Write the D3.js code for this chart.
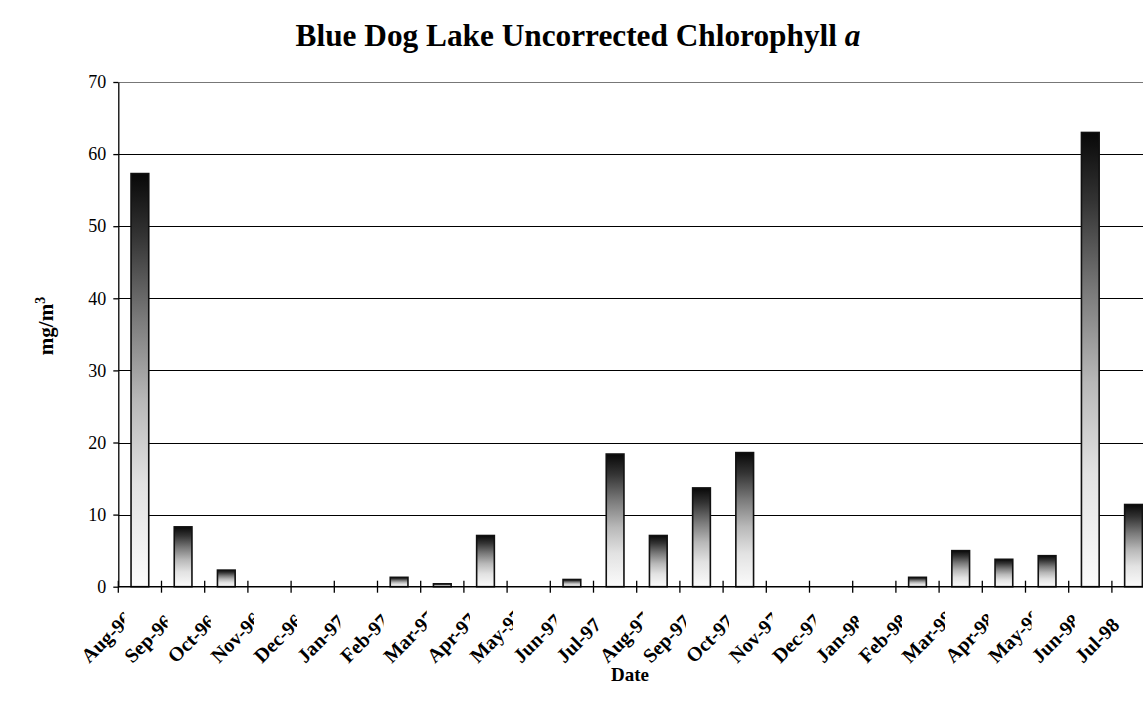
<!DOCTYPE html>
<html><head><meta charset="utf-8">
<script src="https://cdn.jsdelivr.net/npm/d3@7"></script>
<style>
body{margin:0;background:#fff}
svg{display:block}
text{font-family:"Liberation Serif","Times New Roman",serif;fill:#000}
</style>
</head><body>
<svg id="c" width="1143" height="708"></svg>
<script>
const categories=["Aug-96","Sep-96","Oct-96","Nov-96","Dec-96","Jan-97","Feb-97","Mar-97","Apr-97","May-97","Jun-97","Jul-97","Aug-97","Sep-97","Oct-97","Nov-97","Dec-97","Jan-98","Feb-98","Mar-98","Apr-98","May-98","Jun-98","Jul-98"];
const values=[57.3,8.3,2.3,0,0,0,1.3,0.4,7.1,0,1.0,18.4,7.1,13.7,18.6,0,0,0,1.3,5.0,3.8,4.3,63.0,11.4];
const yTicks=[0,10,20,30,40,50,60,70];
const titleMain="Blue Dog Lake Uncorrected Chlorophyll ";
const titleItalic="a";
const xTitle="Date";
const yTitle="mg/m";
const yTitleSup="3";

const svg=d3.select("#c");
const W=1143,H=708;
const m={left:118.3,right:1155.1,top:82,bottom:586.7};
const x=d3.scaleBand().domain(categories).range([m.left,m.right]).paddingInner(0).paddingOuter(0);
const y=d3.scaleLinear().domain([0,70]).range([m.bottom,m.top]);
const bw=x.bandwidth();
const barW=bw*0.41;

const defs=svg.append("defs");
const grad=defs.append("linearGradient").attr("id","barGrad").attr("x1",0).attr("y1",0).attr("x2",0).attr("y2",1);
[[0,"#080808"],[0.15,"#333"],[0.35,"#7a7a7a"],[0.55,"#b8b8b8"],[0.75,"#e2e2e2"],[1,"#fbfbfb"]].forEach(([o,c])=>grad.append("stop").attr("offset",o).attr("stop-color",c));

// gridlines
svg.append("g").selectAll("line").data(yTicks.filter(d=>d>0)).join("line")
  .attr("x1",m.left).attr("x2",W).attr("y1",d=>Math.round(y(d))+0.5).attr("y2",d=>Math.round(y(d))+0.5)
  .attr("stroke",d=>d===70?"#777":"#000").attr("stroke-width",1);

// bars
svg.append("g").selectAll("rect").data(categories.map((c,i)=>({c,v:values[i]})).filter(d=>d.v>0)).join("rect")
  .attr("x",d=>x(d.c)+(bw-barW)/2).attr("width",barW)
  .attr("y",d=>y(d.v)).attr("height",d=>y(0)-y(d.v))
  .attr("fill","url(#barGrad)").attr("stroke","#111").attr("stroke-width",1.6);

// y axis
const ya=svg.append("g").attr("transform",`translate(${m.left},0)`)
  .call(d3.axisLeft(y).tickValues(yTicks).tickSize(5).tickSizeOuter(0).tickPadding(7).tickFormat(d3.format("d")));
ya.select(".domain").attr("stroke","#000").attr("stroke-width",1.3);
ya.selectAll(".tick line").attr("stroke","#000").attr("stroke-width",1.3);
ya.selectAll(".tick text").style("font-family",'"Liberation Serif","Times New Roman",serif').style("font-size","18px");

// x axis line and ticks (at band boundaries)
svg.append("line").attr("x1",m.left).attr("x2",W).attr("y1",y(0)).attr("y2",y(0)).attr("stroke","#000").attr("stroke-width",1.5);
svg.append("g").selectAll("line").data(categories).join("line")
  .attr("x1",d=>x(d)).attr("x2",d=>x(d)).attr("y1",y(0)-6).attr("y2",y(0)+6)
  .attr("stroke","#000").attr("stroke-width",1.3);

// x labels (start-anchored, clipped just right of the band boundary)
const lg=svg.append("g");
categories.forEach((c,i)=>{
  const clipW=(i===categories.length-1)?x(c)+14:x(c)+6;
  defs.append("clipPath").attr("id","clip"+i).append("rect").attr("x",0).attr("y",590).attr("width",clipW).attr("height",118);
  const ax=x(c)-29, ay=664;
  lg.append("g").attr("clip-path",`url(#clip${i})`)
    .append("text").attr("transform",`translate(${ax},${ay}) rotate(-45)`)
    .attr("text-anchor","start").style("font-size","20px").style("font-weight","bold").text(c);
});

// title
const t=svg.append("text").attr("x",578).attr("y",46).attr("text-anchor","middle")
  .style("font-size","31.3px").style("font-weight","bold");
t.append("tspan").text(titleMain);
t.append("tspan").style("font-style","italic").text(titleItalic);

// x title
svg.append("text").attr("x",630).attr("y",681).attr("text-anchor","middle")
  .style("font-size","19px").style("font-weight","bold").text(xTitle);

// y title
const yt=svg.append("text").attr("transform","translate(53,326) rotate(-90)").attr("text-anchor","middle")
  .style("font-size","21px").style("font-weight","bold");
yt.append("tspan").text(yTitle);
yt.append("tspan").attr("dy",-8).style("font-size","14px").text(yTitleSup);
</script>
</body></html>
